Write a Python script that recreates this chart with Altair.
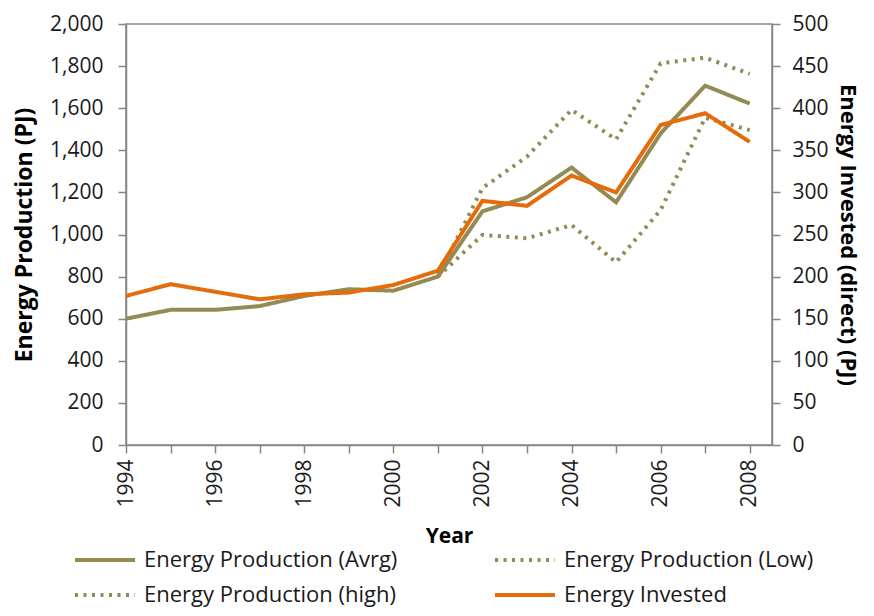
import altair as alt
import pandas as pd

years = list(range(1994, 2009))
prod_avrg = [600, 642, 642, 660, 708, 740, 733, 800, 1110, 1177, 1318, 1153, 1480, 1707, 1622]
invested = [177, 191, 182, 173, 179, 181, 190, 207, 290, 284, 320, 300, 380, 394, 360]
band_years = list(range(2001, 2009))
prod_high = [800, 1220, 1370, 1592, 1452, 1813, 1840, 1763]
prod_low = [800, 998, 982, 1045, 868, 1116, 1555, 1496]

# legend fills column by column: col 1 = Avrg, high ; col 2 = Low, Invested
series_names = ["Energy Production (Avrg)", "Energy Production (high)",
                "Energy Production (Low)", "Energy Invested"]
series_colors = ["#948A54", "#948A54", "#948A54", "#E46C0A"]
series_dash = [[1, 0], [3, 5.5], [3, 5.5], [1, 0]]

rows = []
for y, v in zip(band_years, prod_high):
    rows.append({"year": y, "value": v, "series": series_names[1]})
for y, v in zip(band_years, prod_low):
    rows.append({"year": y, "value": v, "series": series_names[2]})
for y, v in zip(years, prod_avrg):
    rows.append({"year": y, "value": v, "series": series_names[0]})
df_prod = pd.DataFrame(rows)
df_inv = pd.DataFrame({"year": years, "value": invested, "series": series_names[3]})

FONT = "Open Sans"
TXT = "#1a1a1a"

color = alt.Color("series:N", scale=alt.Scale(domain=series_names, range=series_colors), title=None)
dash = alt.StrokeDash("series:N", scale=alt.Scale(domain=series_names, range=series_dash), title=None)
x = alt.X("year:Q", scale=alt.Scale(domain=[1994, 2008.5], nice=False, zero=False),
          axis=alt.Axis(values=years, labelExpr="datum.value % 2 == 0 ? datum.value : ''",
                        labelAngle=-90, title="Year", grid=False, tickSize=8,
                        labelPadding=6, titlePadding=18, titleFontSize=21))

prod = alt.Chart(df_prod).mark_line(strokeWidth=4).encode(
    x=x,
    y=alt.Y("value:Q", scale=alt.Scale(domain=[0, 2000], nice=False),
            axis=alt.Axis(orient="left", values=list(range(0, 2001, 200)), format=",d",
                          title="Energy Production (PJ)", grid=False, tickSize=8,
                          labelPadding=15, titlePadding=13, titleFontSize=23)),
    color=color, strokeDash=dash,
)

inv = alt.Chart(df_inv).mark_line(strokeWidth=4).encode(
    x=x,
    y=alt.Y("value:Q", scale=alt.Scale(domain=[0, 500], nice=False),
            axis=alt.Axis(orient="right", values=list(range(0, 501, 50)),
                          title="Energy Invested (direct) (PJ)", grid=False, tickSize=8,
                          labelPadding=12, titlePadding=7, titleFontSize=22)),
    color=color, strokeDash=dash,
)

chart = alt.layer(prod, inv).resolve_scale(y="independent").properties(
    width=646, height=421,
    padding={"left": 118, "top": 16, "right": 94, "bottom": 163},
    autosize=alt.AutoSizeParams(type="none"),
).configure_view(stroke="#868686", strokeWidth=1.5).configure_axis(
    labelFont=FONT, labelFontSize=21, labelColor=TXT,
    titleFont=FONT, titleFontWeight="bold", titleColor="#000000",
    domainColor="#868686", domainWidth=1.5, tickColor="#868686", tickWidth=1.5,
).configure_legend(
    orient="none", legendX=-53, legendY=526, columns=2, padding=0,
    symbolType="stroke", symbolSize=3600, symbolStrokeWidth=4, clipHeight=20,
    labelFont=FONT, labelFontSize=22, labelColor=TXT, labelOffset=7,
    columnPadding=95, rowPadding=13, labelLimit=400,
)

chart.save("out.html", embed_options={"renderer": "svg", "actions": False})
